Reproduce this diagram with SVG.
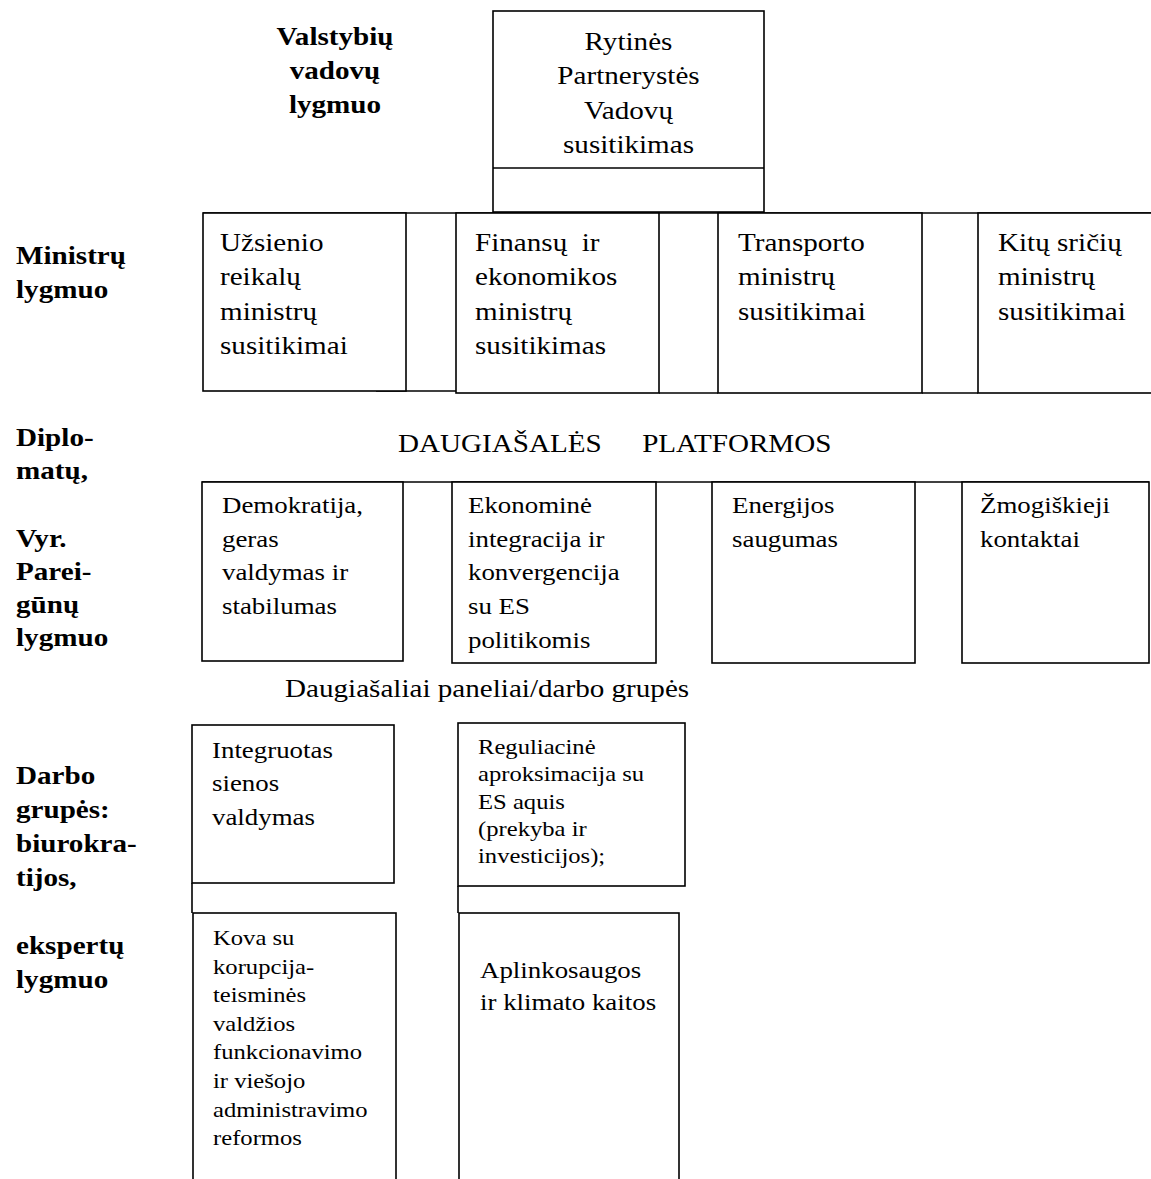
<svg xmlns="http://www.w3.org/2000/svg" width="1151" height="1179" viewBox="0 0 1151 1179">
<style>
.box{fill:#fff;stroke:#000;stroke-width:1.6}
.conn{fill:none;stroke:#000;stroke-width:1.6}
.t{font-family:"Liberation Serif","Times New Roman",serif;fill:#000}
.s26{font-size:26px}
.s24{font-size:24px}
.s22{font-size:22px}
.b{font-weight:bold}
</style>
<rect width="1151" height="1179" fill="#fff"/>

<g id="connectors">
  <line class="conn" x1="203" y1="213" x2="1151" y2="213"/>
  <line class="conn" x1="376" y1="391" x2="456" y2="391"/>
  <line class="conn" x1="659" y1="393" x2="718" y2="393"/>
  <line class="conn" x1="922" y1="393" x2="978" y2="393"/>
  <line class="conn" x1="202" y1="482" x2="1149" y2="482"/>
  <line class="conn" x1="192" y1="883" x2="192" y2="913"/>
  <line class="conn" x1="458" y1="886" x2="458" y2="913"/>
</g>

<g id="label-valstybiu">
  <text class="t s26 b" text-anchor="middle" transform="translate(335 45) scale(1.12 1)"><tspan x="0">Valstybių</tspan><tspan x="0" dy="34">vadovų</tspan><tspan x="0" dy="34">lygmuo</tspan></text>
</g>
<g id="label-ministru">
  <text class="t s26 b" transform="translate(16 264) scale(1.12 1)"><tspan x="0">Ministrų</tspan><tspan x="0" dy="34">lygmuo</tspan></text>
</g>
<g id="label-diplomatu">
  <text class="t s26 b" transform="translate(16 446) scale(1.12 1)"><tspan x="0">Diplo-</tspan><tspan x="0" dy="33">matų,</tspan><tspan x="0" dy="68">Vyr.</tspan><tspan x="0" dy="33">Parei-</tspan><tspan x="0" dy="33">gūnų</tspan><tspan x="0" dy="33.5">lygmuo</tspan></text>
</g>
<g id="label-darbo">
  <text class="t s26 b" transform="translate(16 784) scale(1.12 1)"><tspan x="0">Darbo</tspan><tspan x="0" dy="34">grupės:</tspan><tspan x="0" dy="34">biurokra-</tspan><tspan x="0" dy="34">tijos,</tspan><tspan x="0" dy="68">ekspertų</tspan><tspan x="0" dy="34">lygmuo</tspan></text>
</g>

<g id="node-vadovu">
  <rect class="box" x="493" y="11" width="271" height="201"/>
  <line class="conn" x1="493" y1="168" x2="764" y2="168"/>
  <text class="t s26" text-anchor="middle" transform="translate(628.5 50) scale(1.12 1)"><tspan x="0">Rytinės</tspan><tspan x="0" dy="34.3">Partnerystės</tspan><tspan x="0" dy="34.3">Vadovų</tspan><tspan x="0" dy="34.3">susitikimas</tspan></text>
</g>

<g id="node-uzsienio">
  <rect class="box" x="203" y="213" width="203" height="178"/>
  <text class="t s26" transform="translate(220 251) scale(1.12 1)"><tspan x="0">Užsienio</tspan><tspan x="0" dy="34.5">reikalų</tspan><tspan x="0" dy="34.5">ministrų</tspan><tspan x="0" dy="34.5">susitikimai</tspan></text>
</g>
<g id="node-finansu">
  <rect class="box" x="456" y="213" width="203" height="180"/>
  <text class="t s26" xml:space="preserve" transform="translate(475 251) scale(1.12 1)"><tspan x="0">Finansų  ir</tspan><tspan x="0" dy="34.5">ekonomikos</tspan><tspan x="0" dy="34.5">ministrų</tspan><tspan x="0" dy="34.5">susitikimas</tspan></text>
</g>
<g id="node-transporto">
  <rect class="box" x="718" y="213" width="204" height="180"/>
  <text class="t s26" transform="translate(738 251) scale(1.12 1)"><tspan x="0">Transporto</tspan><tspan x="0" dy="34.5">ministrų</tspan><tspan x="0" dy="34.5">susitikimai</tspan></text>
</g>
<g id="node-kitu">
  <rect class="box" x="978" y="213" width="190" height="180"/>
  <text class="t s26" transform="translate(998 251) scale(1.12 1)"><tspan x="0">Kitų sričių</tspan><tspan x="0" dy="34.5">ministrų</tspan><tspan x="0" dy="34.5">susitikimai</tspan></text>
</g>

<g id="title-platformos">
  <text class="t s26" transform="translate(398 452) scale(1.12 1)"><tspan x="0">DAUGIAŠALĖS</tspan><tspan x="218">PLATFORMOS</tspan></text>
</g>

<g id="node-demokratija">
  <rect class="box" x="202" y="482" width="201" height="179"/>
  <text class="t s24" transform="translate(222 513) scale(1.12 1)"><tspan x="0">Demokratija,</tspan><tspan x="0" dy="33.7">geras</tspan><tspan x="0" dy="33.7">valdymas ir</tspan><tspan x="0" dy="33.7">stabilumas</tspan></text>
</g>
<g id="node-ekonomine">
  <rect class="box" x="452" y="482" width="204" height="181"/>
  <text class="t s24" transform="translate(468 513) scale(1.12 1)"><tspan x="0">Ekonominė</tspan><tspan x="0" dy="33.7">integracija ir</tspan><tspan x="0" dy="33.7">konvergencija</tspan><tspan x="0" dy="33.7">su ES</tspan><tspan x="0" dy="33.7">politikomis</tspan></text>
</g>
<g id="node-energijos">
  <rect class="box" x="712" y="482" width="203" height="181"/>
  <text class="t s24" transform="translate(732 513) scale(1.12 1)"><tspan x="0">Energijos</tspan><tspan x="0" dy="33.7">saugumas</tspan></text>
</g>
<g id="node-zmogiskieji">
  <rect class="box" x="962" y="482" width="187" height="181"/>
  <text class="t s24" transform="translate(980 513) scale(1.12 1)"><tspan x="0">Žmogiškieji</tspan><tspan x="0" dy="33.7">kontaktai</tspan></text>
</g>

<g id="title-paneliai">
  <text class="t s26" transform="translate(285 697) scale(1.12 1)">Daugiašaliai paneliai/darbo grupės</text>
</g>

<g id="node-integruotas">
  <rect class="box" x="192" y="725" width="202" height="158"/>
  <text class="t s24" transform="translate(212 758) scale(1.12 1)"><tspan x="0">Integruotas</tspan><tspan x="0" dy="33.5">sienos</tspan><tspan x="0" dy="33.5">valdymas</tspan></text>
</g>
<g id="node-reguliacine">
  <rect class="box" x="458" y="723" width="227" height="163"/>
  <text class="t s22" transform="translate(478 754) scale(1.12 1)"><tspan x="0">Reguliacinė</tspan><tspan x="0" dy="27.3">aproksimacija su</tspan><tspan x="0" dy="27.3">ES aquis</tspan><tspan x="0" dy="27.3">(prekyba ir</tspan><tspan x="0" dy="27.3">investicijos);</tspan></text>
</g>
<g id="node-kova">
  <rect class="box" x="193" y="913" width="203" height="290"/>
  <text class="t s22" transform="translate(213 945) scale(1.12 1)"><tspan x="0">Kova su</tspan><tspan x="0" dy="28.6">korupcija-</tspan><tspan x="0" dy="28.6">teisminės</tspan><tspan x="0" dy="28.6">valdžios</tspan><tspan x="0" dy="28.6">funkcionavimo</tspan><tspan x="0" dy="28.6">ir viešojo</tspan><tspan x="0" dy="28.6">administravimo</tspan><tspan x="0" dy="28.6">reformos</tspan></text>
</g>
<g id="node-aplinkosaugos">
  <rect class="box" x="459" y="913" width="220" height="290"/>
  <text class="t s24" transform="translate(480 978) scale(1.12 1)"><tspan x="0">Aplinkosaugos</tspan><tspan x="0" dy="32">ir klimato kaitos</tspan></text>
</g>
</svg>
